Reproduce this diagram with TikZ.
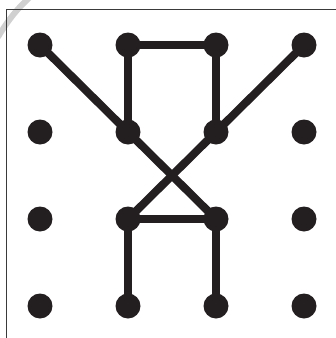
\documentclass[tikz,border=0pt]{standalone}
\usetikzlibrary{backgrounds}
\definecolor{ink}{HTML}{231F20}
\definecolor{framec}{HTML}{3A3A3A}
\definecolor{ghost}{HTML}{D0D0D0}
\begin{document}
\begin{tikzpicture}[x=1pt,y=-1pt,
  dot/.style={circle,fill=ink,inner sep=0pt,minimum size=25pt},
  edge/.style={draw=ink,line width=8pt},
  frameline/.style={draw=framec,line width=1.4pt}]
\useasboundingbox (0,0) rectangle (336,338);
% dots
\foreach \c/\x in {1/40,2/128,3/216,4/304}{
  \foreach \r/\y in {1/45,2/132,3/219,4/306}{
    \node[dot] (d\c\r) at (\x,\y) {};
  }
}
\begin{pgfonlayer}{background}
% grey stroke in corner
\draw[ghost,line width=6pt] (-2,37) .. controls (8,20) and (18,8) .. (29,-2);
% frame
\coordinate (ftr) at (336,9.5);
\coordinate (fc) at (6.5,9.5);
\coordinate (fbl) at (6.5,338);
\draw[frameline] (ftr) -- (fc) -- (fbl);
% connectors
\path[edge] (d11.center) -- (d22.center) -- (d33.center);
\path[edge] (d41.center) -- (d32.center) -- (d23.center);
\path[edge] (d21.center) -- (d31.center);
\path[edge] (d21.center) -- (d22.center);
\path[edge] (d31.center) -- (d32.center);
\path[edge] (d23.center) -- (d33.center);
\path[edge] (d23.center) -- (d24.center);
\path[edge] (d33.center) -- (d34.center);
\end{pgfonlayer}
\end{tikzpicture}
\end{document}
